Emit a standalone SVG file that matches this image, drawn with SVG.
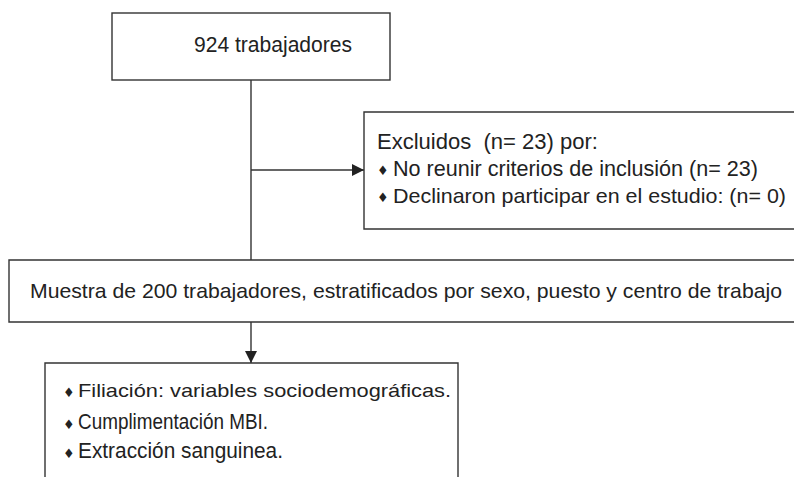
<svg xmlns="http://www.w3.org/2000/svg" width="794" height="477" viewBox="0 0 794 477">
<defs>
<style>
.box{fill:#fff;stroke:#333;stroke-width:1.4}
.bg{fill:#fff;stroke:none}
.ln{fill:none;stroke:#333;stroke-width:1.4}
.t{font-family:"Liberation Sans",Arial,sans-serif;fill:#222;font-size:21.5px}
.b{font-family:"DejaVu Sans","Liberation Sans",sans-serif;fill:#222;font-size:13px}
</style>
<marker id="ah" viewBox="0 0 12 12" refX="12" refY="6" markerWidth="12" markerHeight="12" markerUnits="userSpaceOnUse" orient="auto">
<path d="M0,0 L12,6 L0,12 Z" fill="#222"/>
</marker>
</defs>
<rect width="794" height="477" fill="#fff"/>
<g id="connectors">
<line class="ln" x1="251" y1="80" x2="251" y2="260"/>
<line class="ln" x1="251" y1="170" x2="364" y2="170" marker-end="url(#ah)"/>
<line class="ln" x1="251" y1="322" x2="251" y2="363" marker-end="url(#ah)"/>
</g>
<g id="n1">
<rect class="box" x="112" y="13" width="278" height="67"/>
<text class="t" x="194" y="52" textLength="158" lengthAdjust="spacingAndGlyphs">924 trabajadores</text>
</g>
<g id="n2">
<rect class="bg" x="364" y="112" width="430" height="117"/>
<path class="ln" d="M794,112 H364 V229 H794"/>
<text class="t" x="377" y="149" textLength="221" lengthAdjust="spacingAndGlyphs" xml:space="preserve">Excluidos  (n= 23) por:</text>
<text class="b" x="377" y="175">♦</text>
<text class="t" x="393" y="176" textLength="365" lengthAdjust="spacingAndGlyphs">No reunir criterios de inclusión (n= 23)</text>
<text class="b" x="377" y="202">♦</text>
<text class="t" x="393" y="203" textLength="393" lengthAdjust="spacingAndGlyphs" style="font-size:21px">Declinaron participar en el estudio: (n= 0)</text>
</g>
<g id="n3">
<rect class="bg" x="9" y="260" width="785" height="62"/>
<path class="ln" d="M794,260 H9 V322 H794"/>
<text class="t" x="30" y="298" textLength="752" lengthAdjust="spacingAndGlyphs" style="font-size:21px">Muestra de 200 trabajadores, estratificados por sexo, puesto y centro de trabajo</text>
</g>
<g id="n4">
<rect class="bg" x="45" y="363" width="413" height="114"/>
<path class="ln" d="M45,477 V363 H458 V477"/>
<text class="b" x="63" y="397">♦</text>
<text class="t" x="78" y="397" textLength="373" lengthAdjust="spacingAndGlyphs" style="font-size:19px">Filiación: variables sociodemográficas.</text>
<text class="b" x="63" y="429">♦</text>
<text class="t" x="78" y="429" textLength="190" lengthAdjust="spacingAndGlyphs">Cumplimentación MBI.</text>
<text class="b" x="63" y="458">♦</text>
<text class="t" x="78" y="458" textLength="205" lengthAdjust="spacingAndGlyphs">Extracción sanguinea.</text>
</g>
</svg>
